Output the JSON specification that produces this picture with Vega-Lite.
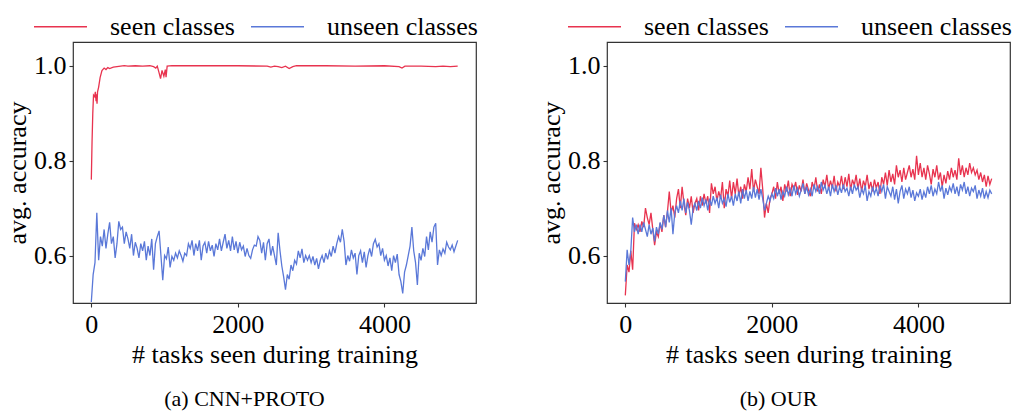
{
"$schema": "https://vega.github.io/schema/vega-lite/v6.json",
"padding": {"left": 3, "top": -2, "right": 5, "bottom": 5},
"spacing": 58,
"config": {
  "font": "Liberation Serif",
  "view": {"stroke": "#333333", "strokeWidth": 1.2},
  "axis": {"labelFontSize": 26, "titleFontSize": 26, "titleFontWeight": "normal", "labelColor": "#000000", "titleColor": "#000000", "tickColor": "#333333", "tickSize": 4, "tickWidth": 1.1, "domain": false, "grid": false, "labelPadding": 4, "titlePadding": 4, "labelFont": "Liberation Serif", "titleFont": "Liberation Serif"},
  "axisY": {"labelPadding": 3, "titlePadding": 3},
  "legend": {"orient": "none", "legendX": -40, "legendY": -43, "direction": "horizontal", "symbolType": "stroke", "symbolSize": 2809, "symbolStrokeWidth": 1.3, "labelFontSize": 26, "labelFont": "Liberation Serif", "labelColor": "#000000", "labelOffset": 22, "columnPadding": 13, "labelLimit": 300, "title": null},
  "title": {"font": "Liberation Serif", "fontSize": 22, "fontWeight": "normal", "color": "#000000"}
},
"datasets": {
"ls": [{"t":0,"a":0.76},{"t":10,"a":0.84},{"t":20,"a":0.9},{"t":30,"a":0.938},{"t":45,"a":0.935},{"t":55,"a":0.945},{"t":65,"a":0.925},{"t":70,"a":0.94},{"t":78,"a":0.92},{"t":85,"a":0.945},{"t":100,"a":0.955},{"t":120,"a":0.975},{"t":145,"a":0.99},{"t":175,"a":0.995},{"t":200,"a":0.992},{"t":225,"a":0.996},{"t":250,"a":0.994},{"t":300,"a":0.997},{"t":350,"a":0.998},{"t":400,"a":0.999},{"t":450,"a":1.0},{"t":500,"a":0.999},{"t":600,"a":1.0},{"t":700,"a":0.999},{"t":800,"a":1.0},{"t":850,"a":0.998},{"t":880,"a":0.995},{"t":900,"a":0.999},{"t":925,"a":0.985},{"t":945,"a":0.973},{"t":965,"a":0.99},{"t":990,"a":0.978},{"t":1010,"a":0.992},{"t":1020,"a":0.976},{"t":1035,"a":0.999},{"t":1100,"a":1.0},{"t":1500,"a":1.0},{"t":2000,"a":1.0},{"t":2400,"a":0.999},{"t":2450,"a":0.997},{"t":2500,"a":0.999},{"t":2550,"a":0.998},{"t":2600,"a":0.996},{"t":2650,"a":0.999},{"t":2700,"a":0.994},{"t":2750,"a":0.998},{"t":2800,"a":1.0},{"t":3200,"a":1.0},{"t":3600,"a":0.999},{"t":4000,"a":1.0},{"t":4200,"a":0.998},{"t":4240,"a":0.995},{"t":4280,"a":0.999},{"t":4500,"a":0.999},{"t":4700,"a":0.998},{"t":4800,"a":0.999},{"t":4900,"a":0.998},{"t":5000,"a":0.999}],
"lu": [{"t":0,"a":0.502},{"t":25,"a":0.56},{"t":50,"a":0.585},{"t":75,"a":0.69},{"t":100,"a":0.59},{"t":125,"a":0.64},{"t":150,"a":0.62},{"t":175,"a":0.655},{"t":200,"a":0.615},{"t":225,"a":0.645},{"t":250,"a":0.67},{"t":275,"a":0.625},{"t":300,"a":0.64},{"t":325,"a":0.595},{"t":350,"a":0.625},{"t":375,"a":0.672},{"t":400,"a":0.655},{"t":425,"a":0.66},{"t":450,"a":0.625},{"t":475,"a":0.65},{"t":500,"a":0.635},{"t":525,"a":0.615},{"t":550,"a":0.645},{"t":575,"a":0.6},{"t":600,"a":0.628},{"t":625,"a":0.615},{"t":650,"a":0.595},{"t":675,"a":0.625},{"t":700,"a":0.61},{"t":725,"a":0.63},{"t":750,"a":0.59},{"t":775,"a":0.62},{"t":800,"a":0.6},{"t":825,"a":0.635},{"t":850,"a":0.57},{"t":875,"a":0.625},{"t":900,"a":0.64},{"t":925,"a":0.652},{"t":950,"a":0.6},{"t":975,"a":0.548},{"t":1000,"a":0.6},{"t":1025,"a":0.593},{"t":1050,"a":0.618},{"t":1075,"a":0.575},{"t":1100,"a":0.598},{"t":1125,"a":0.59},{"t":1150,"a":0.605},{"t":1175,"a":0.595},{"t":1200,"a":0.61},{"t":1225,"a":0.6},{"t":1250,"a":0.588},{"t":1275,"a":0.605},{"t":1300,"a":0.6},{"t":1325,"a":0.625},{"t":1350,"a":0.615},{"t":1375,"a":0.632},{"t":1400,"a":0.6},{"t":1425,"a":0.625},{"t":1450,"a":0.61},{"t":1475,"a":0.632},{"t":1500,"a":0.59},{"t":1525,"a":0.62},{"t":1550,"a":0.628},{"t":1575,"a":0.605},{"t":1600,"a":0.63},{"t":1625,"a":0.61},{"t":1650,"a":0.622},{"t":1675,"a":0.598},{"t":1700,"a":0.625},{"t":1725,"a":0.612},{"t":1750,"a":0.635},{"t":1775,"a":0.61},{"t":1800,"a":0.628},{"t":1825,"a":0.645},{"t":1850,"a":0.615},{"t":1875,"a":0.632},{"t":1900,"a":0.61},{"t":1925,"a":0.64},{"t":1950,"a":0.612},{"t":1975,"a":0.63},{"t":2000,"a":0.605},{"t":2025,"a":0.628},{"t":2050,"a":0.612},{"t":2075,"a":0.62},{"t":2100,"a":0.598},{"t":2125,"a":0.615},{"t":2150,"a":0.6},{"t":2175,"a":0.594},{"t":2200,"a":0.612},{"t":2225,"a":0.622},{"t":2250,"a":0.62},{"t":2275,"a":0.64},{"t":2300,"a":0.632},{"t":2325,"a":0.605},{"t":2350,"a":0.628},{"t":2375,"a":0.59},{"t":2400,"a":0.625},{"t":2425,"a":0.635},{"t":2450,"a":0.6},{"t":2475,"a":0.62},{"t":2500,"a":0.6},{"t":2525,"a":0.58},{"t":2550,"a":0.648},{"t":2575,"a":0.61},{"t":2600,"a":0.578},{"t":2625,"a":0.555},{"t":2650,"a":0.528},{"t":2675,"a":0.56},{"t":2700,"a":0.55},{"t":2725,"a":0.58},{"t":2750,"a":0.568},{"t":2775,"a":0.59},{"t":2800,"a":0.582},{"t":2825,"a":0.61},{"t":2850,"a":0.595},{"t":2875,"a":0.614},{"t":2900,"a":0.585},{"t":2925,"a":0.6},{"t":2950,"a":0.59},{"t":2975,"a":0.6},{"t":3000,"a":0.585},{"t":3025,"a":0.598},{"t":3050,"a":0.58},{"t":3075,"a":0.594},{"t":3100,"a":0.572},{"t":3125,"a":0.59},{"t":3150,"a":0.6},{"t":3175,"a":0.585},{"t":3200,"a":0.605},{"t":3225,"a":0.592},{"t":3250,"a":0.61},{"t":3275,"a":0.598},{"t":3300,"a":0.62},{"t":3325,"a":0.605},{"t":3350,"a":0.625},{"t":3375,"a":0.64},{"t":3400,"a":0.628},{"t":3425,"a":0.655},{"t":3450,"a":0.63},{"t":3475,"a":0.58},{"t":3500,"a":0.6},{"t":3525,"a":0.588},{"t":3550,"a":0.612},{"t":3575,"a":0.595},{"t":3600,"a":0.605},{"t":3625,"a":0.56},{"t":3650,"a":0.6},{"t":3675,"a":0.61},{"t":3700,"a":0.585},{"t":3725,"a":0.608},{"t":3750,"a":0.575},{"t":3775,"a":0.6},{"t":3800,"a":0.615},{"t":3825,"a":0.598},{"t":3850,"a":0.625},{"t":3875,"a":0.634},{"t":3900,"a":0.618},{"t":3925,"a":0.625},{"t":3950,"a":0.6},{"t":3975,"a":0.615},{"t":4000,"a":0.59},{"t":4025,"a":0.6},{"t":4050,"a":0.578},{"t":4075,"a":0.595},{"t":4100,"a":0.568},{"t":4125,"a":0.6},{"t":4150,"a":0.585},{"t":4175,"a":0.603},{"t":4200,"a":0.56},{"t":4225,"a":0.545},{"t":4250,"a":0.52},{"t":4275,"a":0.565},{"t":4300,"a":0.58},{"t":4325,"a":0.6},{"t":4350,"a":0.62},{"t":4375,"a":0.66},{"t":4400,"a":0.61},{"t":4425,"a":0.585},{"t":4450,"a":0.538},{"t":4475,"a":0.605},{"t":4500,"a":0.59},{"t":4525,"a":0.615},{"t":4550,"a":0.598},{"t":4575,"a":0.64},{"t":4600,"a":0.612},{"t":4625,"a":0.65},{"t":4650,"a":0.628},{"t":4675,"a":0.66},{"t":4700,"a":0.668},{"t":4725,"a":0.58},{"t":4750,"a":0.612},{"t":4775,"a":0.6},{"t":4800,"a":0.614},{"t":4825,"a":0.605},{"t":4850,"a":0.628},{"t":4875,"a":0.618},{"t":4900,"a":0.612},{"t":4925,"a":0.622},{"t":4950,"a":0.608},{"t":4975,"a":0.62},{"t":5000,"a":0.632}],
"rs": [{"t":0,"a":0.516},{"t":25,"a":0.58},{"t":50,"a":0.565},{"t":75,"a":0.61},{"t":100,"a":0.57},{"t":125,"a":0.668},{"t":150,"a":0.655},{"t":175,"a":0.665},{"t":200,"a":0.65},{"t":225,"a":0.672},{"t":250,"a":0.66},{"t":275,"a":0.7},{"t":300,"a":0.68},{"t":325,"a":0.665},{"t":350,"a":0.69},{"t":375,"a":0.655},{"t":400,"a":0.622},{"t":425,"a":0.65},{"t":450,"a":0.64},{"t":475,"a":0.668},{"t":500,"a":0.65},{"t":525,"a":0.685},{"t":550,"a":0.66},{"t":575,"a":0.692},{"t":600,"a":0.735},{"t":625,"a":0.69},{"t":650,"a":0.705},{"t":675,"a":0.68},{"t":700,"a":0.72},{"t":725,"a":0.74},{"t":750,"a":0.7},{"t":775,"a":0.745},{"t":800,"a":0.71},{"t":825,"a":0.685},{"t":850,"a":0.72},{"t":875,"a":0.7},{"t":900,"a":0.725},{"t":925,"a":0.69},{"t":950,"a":0.71},{"t":975,"a":0.72},{"t":1000,"a":0.695},{"t":1025,"a":0.725},{"t":1050,"a":0.705},{"t":1075,"a":0.73},{"t":1100,"a":0.71},{"t":1125,"a":0.725},{"t":1150,"a":0.69},{"t":1175,"a":0.752},{"t":1200,"a":0.73},{"t":1225,"a":0.745},{"t":1250,"a":0.715},{"t":1275,"a":0.735},{"t":1300,"a":0.72},{"t":1325,"a":0.755},{"t":1350,"a":0.7},{"t":1375,"a":0.74},{"t":1400,"a":0.725},{"t":1425,"a":0.758},{"t":1450,"a":0.72},{"t":1475,"a":0.755},{"t":1500,"a":0.73},{"t":1525,"a":0.762},{"t":1550,"a":0.725},{"t":1575,"a":0.745},{"t":1600,"a":0.72},{"t":1625,"a":0.75},{"t":1650,"a":0.735},{"t":1675,"a":0.765},{"t":1700,"a":0.74},{"t":1725,"a":0.782},{"t":1750,"a":0.735},{"t":1775,"a":0.76},{"t":1800,"a":0.745},{"t":1825,"a":0.73},{"t":1850,"a":0.785},{"t":1875,"a":0.74},{"t":1900,"a":0.68},{"t":1925,"a":0.71},{"t":1950,"a":0.69},{"t":1975,"a":0.72},{"t":2000,"a":0.73},{"t":2025,"a":0.745},{"t":2050,"a":0.72},{"t":2075,"a":0.755},{"t":2100,"a":0.73},{"t":2125,"a":0.745},{"t":2150,"a":0.715},{"t":2175,"a":0.75},{"t":2200,"a":0.735},{"t":2225,"a":0.758},{"t":2250,"a":0.725},{"t":2275,"a":0.75},{"t":2300,"a":0.74},{"t":2325,"a":0.755},{"t":2350,"a":0.728},{"t":2375,"a":0.748},{"t":2400,"a":0.735},{"t":2425,"a":0.76},{"t":2450,"a":0.73},{"t":2475,"a":0.752},{"t":2500,"a":0.738},{"t":2525,"a":0.725},{"t":2550,"a":0.755},{"t":2575,"a":0.74},{"t":2600,"a":0.765},{"t":2625,"a":0.735},{"t":2650,"a":0.75},{"t":2675,"a":0.73},{"t":2700,"a":0.76},{"t":2725,"a":0.745},{"t":2750,"a":0.77},{"t":2775,"a":0.74},{"t":2800,"a":0.758},{"t":2825,"a":0.742},{"t":2850,"a":0.768},{"t":2875,"a":0.735},{"t":2900,"a":0.755},{"t":2925,"a":0.745},{"t":2950,"a":0.768},{"t":2975,"a":0.74},{"t":3000,"a":0.765},{"t":3025,"a":0.745},{"t":3050,"a":0.772},{"t":3075,"a":0.738},{"t":3100,"a":0.76},{"t":3125,"a":0.748},{"t":3150,"a":0.77},{"t":3175,"a":0.74},{"t":3200,"a":0.762},{"t":3225,"a":0.735},{"t":3250,"a":0.758},{"t":3275,"a":0.745},{"t":3300,"a":0.77},{"t":3325,"a":0.74},{"t":3350,"a":0.755},{"t":3375,"a":0.735},{"t":3400,"a":0.76},{"t":3425,"a":0.742},{"t":3450,"a":0.755},{"t":3475,"a":0.73},{"t":3500,"a":0.765},{"t":3525,"a":0.75},{"t":3550,"a":0.775},{"t":3575,"a":0.748},{"t":3600,"a":0.78},{"t":3625,"a":0.755},{"t":3650,"a":0.772},{"t":3675,"a":0.75},{"t":3700,"a":0.79},{"t":3725,"a":0.765},{"t":3750,"a":0.78},{"t":3775,"a":0.755},{"t":3800,"a":0.785},{"t":3825,"a":0.76},{"t":3850,"a":0.775},{"t":3875,"a":0.79},{"t":3900,"a":0.765},{"t":3925,"a":0.782},{"t":3950,"a":0.76},{"t":3975,"a":0.81},{"t":4000,"a":0.77},{"t":4025,"a":0.795},{"t":4050,"a":0.765},{"t":4075,"a":0.785},{"t":4100,"a":0.76},{"t":4125,"a":0.79},{"t":4150,"a":0.772},{"t":4175,"a":0.75},{"t":4200,"a":0.782},{"t":4225,"a":0.765},{"t":4250,"a":0.79},{"t":4275,"a":0.76},{"t":4300,"a":0.775},{"t":4325,"a":0.745},{"t":4350,"a":0.77},{"t":4375,"a":0.752},{"t":4400,"a":0.778},{"t":4425,"a":0.76},{"t":4450,"a":0.785},{"t":4475,"a":0.765},{"t":4500,"a":0.78},{"t":4525,"a":0.76},{"t":4550,"a":0.805},{"t":4575,"a":0.77},{"t":4600,"a":0.79},{"t":4625,"a":0.765},{"t":4650,"a":0.785},{"t":4675,"a":0.77},{"t":4700,"a":0.795},{"t":4725,"a":0.775},{"t":4750,"a":0.785},{"t":4775,"a":0.77},{"t":4800,"a":0.78},{"t":4825,"a":0.76},{"t":4850,"a":0.775},{"t":4875,"a":0.755},{"t":4900,"a":0.77},{"t":4925,"a":0.745},{"t":4950,"a":0.768},{"t":4975,"a":0.75},{"t":5000,"a":0.762}],
"ru": [{"t":0,"a":0.545},{"t":25,"a":0.612},{"t":50,"a":0.58},{"t":75,"a":0.61},{"t":100,"a":0.68},{"t":125,"a":0.65},{"t":150,"a":0.665},{"t":175,"a":0.645},{"t":200,"a":0.665},{"t":225,"a":0.65},{"t":250,"a":0.67},{"t":275,"a":0.655},{"t":300,"a":0.64},{"t":325,"a":0.665},{"t":350,"a":0.645},{"t":375,"a":0.658},{"t":400,"a":0.63},{"t":425,"a":0.66},{"t":450,"a":0.645},{"t":475,"a":0.67},{"t":500,"a":0.655},{"t":525,"a":0.685},{"t":550,"a":0.66},{"t":575,"a":0.695},{"t":600,"a":0.67},{"t":625,"a":0.7},{"t":650,"a":0.645},{"t":675,"a":0.69},{"t":700,"a":0.705},{"t":725,"a":0.69},{"t":750,"a":0.715},{"t":775,"a":0.695},{"t":800,"a":0.72},{"t":825,"a":0.69},{"t":850,"a":0.712},{"t":875,"a":0.695},{"t":900,"a":0.665},{"t":925,"a":0.7},{"t":950,"a":0.71},{"t":975,"a":0.695},{"t":1000,"a":0.715},{"t":1025,"a":0.7},{"t":1050,"a":0.722},{"t":1075,"a":0.705},{"t":1100,"a":0.718},{"t":1125,"a":0.695},{"t":1150,"a":0.72},{"t":1175,"a":0.705},{"t":1200,"a":0.725},{"t":1225,"a":0.71},{"t":1250,"a":0.722},{"t":1275,"a":0.7},{"t":1300,"a":0.728},{"t":1325,"a":0.71},{"t":1350,"a":0.72},{"t":1375,"a":0.703},{"t":1400,"a":0.73},{"t":1425,"a":0.712},{"t":1450,"a":0.725},{"t":1475,"a":0.705},{"t":1500,"a":0.73},{"t":1525,"a":0.715},{"t":1550,"a":0.735},{"t":1575,"a":0.71},{"t":1600,"a":0.74},{"t":1625,"a":0.72},{"t":1650,"a":0.738},{"t":1675,"a":0.715},{"t":1700,"a":0.735},{"t":1725,"a":0.72},{"t":1750,"a":0.745},{"t":1775,"a":0.722},{"t":1800,"a":0.74},{"t":1825,"a":0.718},{"t":1850,"a":0.74},{"t":1875,"a":0.72},{"t":1900,"a":0.695},{"t":1925,"a":0.71},{"t":1950,"a":0.725},{"t":1975,"a":0.715},{"t":2000,"a":0.73},{"t":2025,"a":0.72},{"t":2050,"a":0.742},{"t":2075,"a":0.725},{"t":2100,"a":0.74},{"t":2125,"a":0.718},{"t":2150,"a":0.735},{"t":2175,"a":0.725},{"t":2200,"a":0.745},{"t":2225,"a":0.728},{"t":2250,"a":0.74},{"t":2275,"a":0.725},{"t":2300,"a":0.748},{"t":2325,"a":0.73},{"t":2350,"a":0.742},{"t":2375,"a":0.725},{"t":2400,"a":0.738},{"t":2425,"a":0.752},{"t":2450,"a":0.73},{"t":2475,"a":0.745},{"t":2500,"a":0.728},{"t":2525,"a":0.74},{"t":2550,"a":0.725},{"t":2575,"a":0.75},{"t":2600,"a":0.735},{"t":2625,"a":0.745},{"t":2650,"a":0.73},{"t":2675,"a":0.755},{"t":2700,"a":0.738},{"t":2725,"a":0.748},{"t":2750,"a":0.73},{"t":2775,"a":0.745},{"t":2800,"a":0.725},{"t":2825,"a":0.75},{"t":2850,"a":0.735},{"t":2875,"a":0.748},{"t":2900,"a":0.728},{"t":2925,"a":0.745},{"t":2950,"a":0.732},{"t":2975,"a":0.75},{"t":3000,"a":0.735},{"t":3025,"a":0.742},{"t":3050,"a":0.725},{"t":3075,"a":0.745},{"t":3100,"a":0.73},{"t":3125,"a":0.75},{"t":3150,"a":0.738},{"t":3175,"a":0.745},{"t":3200,"a":0.722},{"t":3225,"a":0.74},{"t":3250,"a":0.73},{"t":3275,"a":0.748},{"t":3300,"a":0.715},{"t":3325,"a":0.735},{"t":3350,"a":0.725},{"t":3375,"a":0.745},{"t":3400,"a":0.73},{"t":3425,"a":0.742},{"t":3450,"a":0.725},{"t":3475,"a":0.748},{"t":3500,"a":0.735},{"t":3525,"a":0.75},{"t":3550,"a":0.72},{"t":3575,"a":0.745},{"t":3600,"a":0.735},{"t":3625,"a":0.725},{"t":3650,"a":0.745},{"t":3675,"a":0.718},{"t":3700,"a":0.74},{"t":3725,"a":0.71},{"t":3750,"a":0.735},{"t":3775,"a":0.748},{"t":3800,"a":0.72},{"t":3825,"a":0.74},{"t":3850,"a":0.73},{"t":3875,"a":0.745},{"t":3900,"a":0.722},{"t":3925,"a":0.738},{"t":3950,"a":0.715},{"t":3975,"a":0.732},{"t":4000,"a":0.725},{"t":4025,"a":0.74},{"t":4050,"a":0.718},{"t":4075,"a":0.735},{"t":4100,"a":0.722},{"t":4125,"a":0.745},{"t":4150,"a":0.73},{"t":4175,"a":0.748},{"t":4200,"a":0.725},{"t":4225,"a":0.74},{"t":4250,"a":0.73},{"t":4275,"a":0.755},{"t":4300,"a":0.735},{"t":4325,"a":0.748},{"t":4350,"a":0.72},{"t":4375,"a":0.742},{"t":4400,"a":0.728},{"t":4425,"a":0.745},{"t":4450,"a":0.735},{"t":4475,"a":0.752},{"t":4500,"a":0.73},{"t":4525,"a":0.745},{"t":4550,"a":0.725},{"t":4575,"a":0.75},{"t":4600,"a":0.738},{"t":4625,"a":0.755},{"t":4650,"a":0.73},{"t":4675,"a":0.745},{"t":4700,"a":0.725},{"t":4725,"a":0.742},{"t":4750,"a":0.735},{"t":4775,"a":0.748},{"t":4800,"a":0.72},{"t":4825,"a":0.738},{"t":4850,"a":0.725},{"t":4875,"a":0.742},{"t":4900,"a":0.72},{"t":4925,"a":0.735},{"t":4950,"a":0.722},{"t":4975,"a":0.738},{"t":5000,"a":0.73}]
},
"resolve": {"scale": {"color": "independent"}, "legend": {"color": "independent"}},
"hconcat": [
 {
  "width": 403, "height": 261,
  "title": {"text": "(a) CNN+PROTO", "orient": "bottom", "anchor": "middle", "dx": -30, "offset": 22},
  "encoding": {
    "x": {"field": "t", "type": "quantitative", "scale": {"domain": [-250, 5250], "nice": false, "zero": false}, "axis": {"values": [0, 2000, 4000], "format": "d", "title": "# tasks seen during training"}},
    "y": {"field": "a", "type": "quantitative", "scale": {"domain": [0.5, 1.05], "nice": false, "zero": false}, "axis": {"values": [0.6, 0.8, 1.0], "format": ".1f", "title": "avg. accuracy"}}
  },
  "layer": [
    {"data": {"name": "ls"}, "mark": {"type": "line", "strokeWidth": 1.3, "clip": true}, "encoding": {"color": {"datum": "seen classes", "type": "nominal", "scale": {"domain": ["seen classes", "unseen classes"], "range": ["#e8334f", "#5a78d8"]}}}},
    {"data": {"name": "lu"}, "mark": {"type": "line", "strokeWidth": 1.3, "clip": true}, "encoding": {"color": {"datum": "unseen classes", "type": "nominal"}}}
  ]
 },
 {
  "width": 403, "height": 261,
  "title": {"text": "(b) OUR", "orient": "bottom", "anchor": "middle", "dx": -30, "offset": 22},
  "encoding": {
    "x": {"field": "t", "type": "quantitative", "scale": {"domain": [-250, 5250], "nice": false, "zero": false}, "axis": {"values": [0, 2000, 4000], "format": "d", "title": "# tasks seen during training"}},
    "y": {"field": "a", "type": "quantitative", "scale": {"domain": [0.5, 1.05], "nice": false, "zero": false}, "axis": {"values": [0.6, 0.8, 1.0], "format": ".1f", "title": "avg. accuracy"}}
  },
  "layer": [
    {"data": {"name": "rs"}, "mark": {"type": "line", "strokeWidth": 1.3, "clip": true}, "encoding": {"color": {"datum": "seen classes", "type": "nominal", "scale": {"domain": ["seen classes", "unseen classes"], "range": ["#e8334f", "#5a78d8"]}}}},
    {"data": {"name": "ru"}, "mark": {"type": "line", "strokeWidth": 1.3, "clip": true}, "encoding": {"color": {"datum": "unseen classes", "type": "nominal"}}}
  ]
 }
]
}
